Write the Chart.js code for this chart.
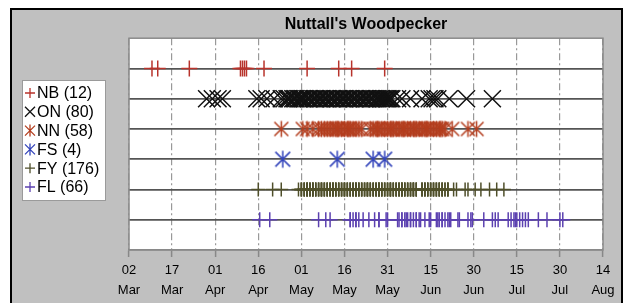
<!DOCTYPE html>
<html>
<head>
<meta charset="utf-8">
<script src="https://cdn.jsdelivr.net/npm/chart.js@4/dist/chart.umd.min.js"></script>
<style>
  body { margin: 0; background: #fff; }
</style>
</head>
<body>
<canvas id="woodpeckerChart" width="625" height="303"></canvas>
<script>
// days counted from 02 Mar (day 0)
var codes = ["NB", "ON", "NN", "FS", "FY", "FL"];
var counts = [12, 80, 58, 4, 176, 66];
var rows = [6, 5, 4, 3, 2, 1];

var tickDays = ["02", "17", "01", "16", "01", "16", "31", "15", "30", "15", "30", "14"];
var tickMonths = ["Mar", "Mar", "Apr", "Apr", "May", "May", "May", "Jun", "Jun", "Jul", "Jul", "Aug"];

var nbDays = [8, 10, 21, 38.8, 39.5, 40.2, 40.9, 47, 62, 73, 77.5, 89];

var onDays = [27, 29, 31, 32.5, 44.5, 46, 48, 50.5, 53,
  54, 55, 55.5, 56, 57, 57.5, 58, 59, 59.5, 60, 60.5, 61, 62, 62.5, 63, 64, 64.5, 65, 66, 66.5,
  67, 68, 68.5, 69, 70, 70.5, 71, 72, 72.5, 73, 74, 74.5, 75, 76, 76.5, 77, 78, 78.5, 79, 80,
  80.5, 81, 82, 82.5, 83, 84, 84.5, 85, 86, 86.5, 87, 87.5, 88, 88.5, 89, 89.5, 90, 90.5, 91,
  91.5, 93.5, 95, 98, 102, 104.5, 105.5, 106.5, 107.5, 111.5, 117.5, 126.5];

var nnDays = [53, 60.5, 62, 64,
  66, 67, 68, 69, 70, 71, 72, 72.5, 73, 74, 75, 76, 76.5, 77, 78, 79, 80, 81,
  84, 85, 86, 86.5, 87, 88, 89, 90, 91, 91.5, 92, 93, 94, 95, 95.5, 96, 97, 98, 99, 99.5,
  100, 101, 102, 103, 103.5, 104, 105, 106, 107, 108, 108.5, 109, 110,
  112.5, 118, 121];

var fsDays = [53.5, 72.5, 85, 89];

var fyDays = [45, 50, 53, 59,
  60, 60, 60, 61, 61, 61, 62, 62, 62, 62, 63, 63, 63, 64, 64, 64, 64, 65, 65, 65,
  66, 66, 66, 67, 67, 67, 67, 68, 68, 68, 69, 69, 69, 70, 70, 70, 71, 71, 71, 71,
  72, 72, 72, 73, 73, 73, 74, 74, 74, 75, 75, 75, 75, 76, 76, 76, 77, 77, 77,
  78, 78, 78, 79, 79, 79, 79, 80, 80, 80, 81, 81, 81, 82, 82, 82, 83, 83, 83, 83,
  84, 84, 84, 85, 85, 85, 86, 86, 86, 87, 87, 87, 87, 88, 88, 88, 89, 89, 89,
  90, 90, 90, 91, 91, 91, 91, 92, 92, 92, 93, 93, 93, 94, 94, 94, 95, 95, 95, 95,
  96, 96, 96, 97, 97, 97, 98, 98, 98, 99, 99, 99, 99, 100, 100, 100,
  102, 102, 102, 103, 103, 103, 104, 104, 104, 105, 105, 105, 106, 106, 106,
  107, 107, 107, 108, 108, 108, 109, 109, 109, 110, 110, 111, 111, 111,
  113, 114, 117, 118, 120.5, 122.5, 125.5, 128, 130.5];

var flDays = [45.5, 49, 66, 68.5, 70,
  77, 77, 78, 79, 79, 80, 81.5,
  83.5, 85.5, 87, 87, 89.5, 90,
  93.5, 94, 95, 95, 96, 96.5, 97, 98, 98, 99, 100, 100, 101, 101.5,
  103, 104.5, 105,
  107, 107.5, 108, 109, 109, 110, 111, 111.5, 112,
  114.5, 115, 118, 119, 119.5, 123.5, 126.5, 127.5, 128.5,
  132, 133, 134, 134.5, 135, 136, 137, 138, 139,
  142.5, 145.5, 150, 151];

var seriesDays = [nbDays, onDays, nnDays, fsDays, fyDays, flDays];

// look of each series
var colors = ["#b8332b", "#111111", "#b33d1e", "#3344bb", "#4f4f2a", "#5b40b0"];
var markers = ["cross", "crossRot", "asterisk", "asterisk", "cross", "cross"];
var sizes = [8, 12, 8, 8.5, 7, 7.5];

function asterisk(color, r, lw) {
  var c = document.createElement("canvas");
  var s = Math.ceil(r * 2 + 3);
  c.width = s;
  c.height = s;
  var g = c.getContext("2d");
  g.strokeStyle = color;
  g.lineWidth = lw;
  var m = s / 2, d = r * 0.87;
  g.beginPath();
  g.moveTo(m - d, m - d); g.lineTo(m + d, m + d);
  g.moveTo(m + d, m - d); g.lineTo(m - d, m + d);
  g.moveTo(m, m - r); g.lineTo(m, m + r);
  g.stroke();
  return c;
}

var datasets = codes.map(function (code, i) {
  return {
    label: code + " (" + counts[i] + ")",
    data: seriesDays[i].map(function (d) { return { x: d, y: rows[i] }; }),
    showLine: false,
    pointStyle: markers[i] === "asterisk" ? asterisk(colors[i], sizes[i], 1.5) : markers[i],
    pointRadius: sizes[i],
    pointBorderWidth: 1.5,
    pointBorderColor: colors[i],
    pointBackgroundColor: "rgba(0,0,0,0)",
  };
});

// gray frame and white plot
var framePlugin = {
  id: "frame",
  beforeDraw: function (chart) {
    var ctx = chart.ctx, a = chart.chartArea;
    ctx.save();
    ctx.fillStyle = "#ffffff";
    ctx.fillRect(0, 0, chart.width, chart.height);
    ctx.fillStyle = "#c0c0c0";
    ctx.fillRect(11, 9, 611, 300);
    ctx.strokeStyle = "#000";
    ctx.lineWidth = 2;
    ctx.strokeRect(11, 9, 611, 300);
    ctx.fillStyle = "#ffffff";
    ctx.fillRect(a.left, a.top, a.right - a.left, a.bottom - a.top);
    ctx.restore();
  },
  beforeDatasetsDraw: function (chart) {
    var ctx = chart.ctx, a = chart.chartArea;
    ctx.save();
    ctx.strokeStyle = "#8a8a8a";
    ctx.lineWidth = 1.5;
    ctx.strokeRect(a.left, a.top, a.right - a.left, a.bottom - a.top);
    ctx.restore();
  },
};

// boxed legend on the left
var legendPlugin = {
  id: "boxLegend",
  afterDraw: function (chart) {
    var ctx = chart.ctx;
    ctx.save();
    ctx.fillStyle = "#fff";
    ctx.fillRect(22, 80, 83, 120);
    ctx.strokeStyle = "#9a9a9a";
    ctx.lineWidth = 1;
    ctx.strokeRect(22.5, 80.5, 83, 120);
    ctx.font = "16px 'Liberation Sans', Arial, sans-serif";
    ctx.textBaseline = "middle";
    chart.data.datasets.forEach(function (ds, i) {
      var y = 93 + i * 18.8, x = 30, r = 5;
      ctx.strokeStyle = colors[i];
      ctx.lineWidth = 1.3;
      ctx.beginPath();
      if (markers[i] === "cross") {
        ctx.moveTo(x - r, y); ctx.lineTo(x + r, y);
        ctx.moveTo(x, y - r); ctx.lineTo(x, y + r);
      } else {
        ctx.moveTo(x - r, y - r); ctx.lineTo(x + r, y + r);
        ctx.moveTo(x + r, y - r); ctx.lineTo(x - r, y + r);
        if (markers[i] === "asterisk") {
          ctx.moveTo(x, y - r - 1); ctx.lineTo(x, y + r + 1);
        }
      }
      ctx.stroke();
      ctx.fillStyle = "#000";
      ctx.fillText(ds.label, 37, y + 1);
    });
    ctx.restore();
  },
};

var chart = new Chart(document.getElementById("woodpeckerChart").getContext("2d"), {
  type: "scatter",
  data: { datasets: datasets },
  plugins: [framePlugin, legendPlugin],
  options: {
    responsive: false,
    animation: false,
    events: [],
    layout: { padding: { left: 129, right: 22, top: 0, bottom: 0 } },
    plugins: {
      legend: { display: false },
      tooltip: { enabled: false },
      title: {
        display: true,
        text: "Nuttall's Woodpecker",
        color: "#000",
        font: { family: "'Liberation Sans', Arial, sans-serif", size: 16, weight: "bold" },
        padding: { top: 15, bottom: 4 },
      },
    },
    scales: {
      x: {
        type: "linear",
        min: 0,
        max: 165,
        afterFit: function (scale) { scale.height = 53; },
        ticks: {
          stepSize: 15,
          autoSkip: false,
          maxRotation: 0,
          padding: 4,
          color: "#000",
          font: { family: "'Liberation Sans', Arial, sans-serif", size: 13, lineHeight: 1.5 },
          callback: function (value, index) {
            return [tickDays[index], tickMonths[index]];
          },
        },
        grid: { color: "#999", lineWidth: 1.2, tickLength: 7, tickColor: "#888", tickWidth: 1.5 },
        border: { display: true, color: "#888", width: 1.5, dash: [7, 3, 2, 3] },
      },
      y: {
        min: 0,
        max: 7,
        ticks: { stepSize: 1, display: false },
        grid: {
          drawTicks: false,
          lineWidth: 1.8,
          color: function (c) {
            var v = c.tick ? c.tick.value : 0;
            return v === 0 || v === 7 ? "rgba(0,0,0,0)" : "#555";
          },
        },
        border: { display: false },
      },
    },
  },
});
</script>
</body>
</html>
